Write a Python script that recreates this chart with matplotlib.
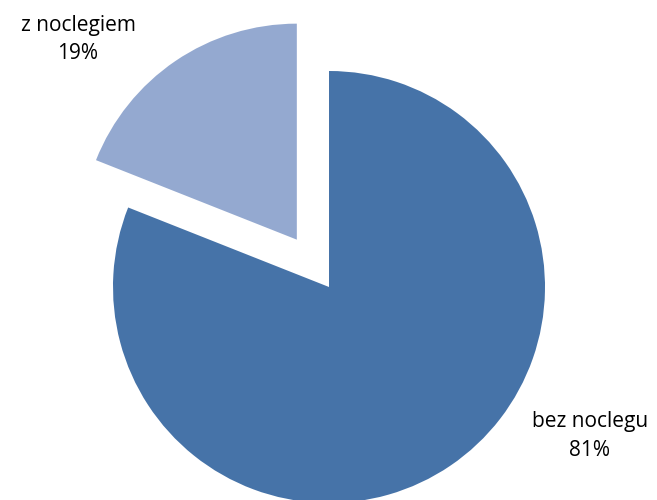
import matplotlib.pyplot as plt

# udział wyjazdów z noclegiem i bez noclegu
kategorie = ['bez noclegu', 'z noclegiem']
udzialy = [81, 19]
kolory = ['#4673A8', '#94A9D0']

fig = plt.figure(figsize=(6.57, 5), dpi=100)
ax = fig.add_axes([0, 0, 1, 1])

ax.pie(udzialy, colors=kolory, startangle=90, counterclock=False,
       explode=[0, 0.265], radius=1, wedgeprops={'linewidth': 0})

# etykiety obok wycinków
pozycje = [(1.208, -0.69), (-1.162, 1.144)]
for (x, y), nazwa, wartosc in zip(pozycje, kategorie, udzialy):
    ax.text(x, y, f'{nazwa}\n{wartosc}%', ha='center', va='center',
            fontsize=15, family='Open Sans', linespacing=1.45, color='black')

ax.set_aspect('equal')
ax.set_xlim(-329 / 216, (657 - 329) / 216)
ax.set_ylim(-213 / 216, 287 / 216)
ax.axis('off')

fig.savefig('out.png', dpi=100)
